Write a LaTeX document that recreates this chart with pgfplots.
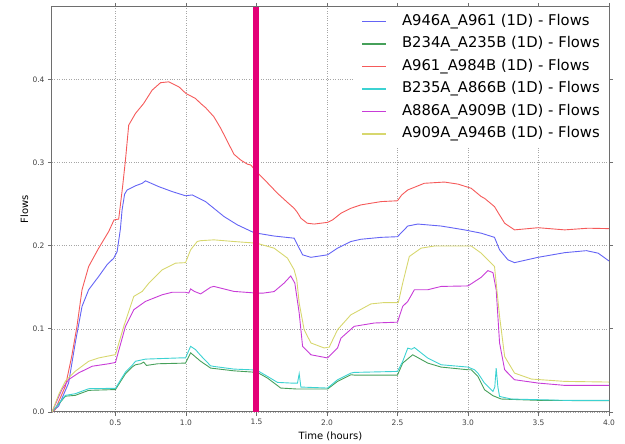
\documentclass[border=0pt]{standalone}
\usepackage{fontspec}
\setmainfont{DejaVu Sans}
\usepackage{pgfplots}
\pgfplotsset{compat=1.18}

\definecolor{cblue}{RGB}{100,100,245}
\definecolor{cgreen}{RGB}{70,160,90}
\definecolor{cred}{RGB}{245,90,90}
\definecolor{ccyan}{RGB}{60,210,210}
\definecolor{cmag}{RGB}{200,60,215}
\definecolor{cyel}{RGB}{215,215,110}
\definecolor{cbar}{RGB}{228,0,120}
\definecolor{axgray}{RGB}{110,110,110}

\begin{document}
\begin{tikzpicture}
\begin{axis}[
    scale only axis,
    width=557pt, height=405pt,
    xmin=0.05, xmax=4.0,
    ymin=0, ymax=0.487,
    xtick={0.5,1.0,1.5,2.0,2.5,3.0,3.5,4.0},
    ytick={0,0.1,0.2,0.3,0.4},
    xticklabel style={/pgf/number format/.cd,fixed,fixed zerofill,precision=1},
    yticklabel style={/pgf/number format/.cd,fixed,fixed zerofill,precision=1},
    /pgf/number format/assume math mode=true,
    tick label style={font=\fontsize{7.5}{9}\selectfont, text=black!75},
    tick align=outside,
    major tick length=4pt,
    tick style={axgray, line width=0.8pt},
    axis line style={axgray, line width=1pt},
    grid=major,
    grid style={dotted, black!35, line width=0.6pt},
    xlabel={Time (hours)},
    ylabel={Flows},
    label style={font=\fontsize{7.5}{9}\selectfont, text=black!80},
    every axis x label/.style={at={(axis description cs:0.5,0)}, yshift=-24pt, anchor=center},
    every axis y label/.style={at={(axis description cs:0,0.5)}, xshift=-27.5pt, rotate=90, anchor=center},
    legend cell align=left,
    legend style={at={(1,1)}, anchor=north east, draw=none, fill=white,
        font=\fontsize{14.8}{16}\selectfont,
        nodes={text height=11pt, text depth=3.5pt, inner sep=0pt},
        row sep=8pt, inner xsep=9pt, inner ysep=7pt},
    legend image code/.code={\draw[#1, line width=1.2pt] (0pt,0pt) -- (24pt,0pt);},
    legend style={/tikz/column 2/.style={column sep=0pt}, /tikz/column 1/.style={column sep=15pt}},
    every axis plot/.append style={line width=0.9pt},
]
\addplot[color=cblue] coordinates {
(0.05,0) (0.097,0.007) (0.168,0.035) (0.215,0.083) (0.263,0.127) (0.31,0.147) (0.381,0.163) (0.44,0.177) (0.488,0.185) (0.512,0.193) (0.535,0.22) (0.547,0.243) (0.565,0.262) (0.583,0.267) (0.642,0.272) (0.69,0.275) (0.713,0.278) (0.807,0.271) (0.903,0.265) (0.997,0.260) (1.045,0.261) (1.139,0.253) (1.27,0.235) (1.365,0.225) (1.483,0.2156) (1.625,0.2116) (1.767,0.209) (1.791,0.201) (1.827,0.189) (1.886,0.186) (2.004,0.189) (2.075,0.197) (2.17,0.205) (2.24,0.2077) (2.383,0.210) (2.50,0.2108) (2.573,0.2236) (2.644,0.226) (2.81,0.2236) (2.975,0.219) (3.094,0.215) (3.188,0.210) (3.224,0.195) (3.283,0.183) (3.33,0.1796) (3.497,0.186) (3.686,0.1916) (3.84,0.194) (3.923,0.191) (4.0,0.1816)
};
\addplot[color=cgreen] coordinates {
(0.05,0) (0.145,0.019) (0.215,0.02) (0.31,0.026) (0.50,0.027) (0.571,0.046) (0.618,0.054) (0.642,0.0568) (0.68,0.058) (0.70,0.060) (0.72,0.056) (0.8,0.058) (0.997,0.0588) (1.033,0.0712) (1.104,0.061) (1.175,0.0528) (1.34,0.0495) (1.507,0.0476) (1.578,0.0408) (1.672,0.0288) (1.791,0.0276) (2.004,0.0276) (2.075,0.0368) (2.17,0.0448) (2.193,0.0444) (2.50,0.0444) (2.537,0.0588) (2.608,0.0688) (2.715,0.0588) (2.81,0.054) (3.0,0.0508) (3.023,0.0508) (3.07,0.0428) (3.117,0.0268) (3.177,0.0196) (3.236,0.0156) (3.5,0.014) (4.0,0.0135)
};
\addplot[color=cred] coordinates {
(0.05,0) (0.073,0.003) (0.145,0.031) (0.19,0.067) (0.227,0.103) (0.263,0.147) (0.31,0.175) (0.381,0.197) (0.452,0.217) (0.49,0.231) (0.523,0.232) (0.55,0.27) (0.571,0.303) (0.594,0.345) (0.642,0.359) (0.70,0.371) (0.76,0.387) (0.82,0.396) (0.878,0.397) (0.95,0.391) (1.0,0.383) (1.068,0.377) (1.104,0.371) (1.139,0.366) (1.198,0.355) (1.247,0.341) (1.34,0.31) (1.388,0.303) (1.436,0.298) (1.46,0.297) (1.5,0.289) (1.57,0.277) (1.649,0.263) (1.72,0.252) (1.767,0.245) (1.79,0.24) (1.815,0.233) (1.86,0.227) (1.909,0.226) (2.004,0.228) (2.04,0.231) (2.099,0.239) (2.17,0.245) (2.24,0.249) (2.383,0.253) (2.50,0.254) (2.53,0.261) (2.573,0.267) (2.69,0.275) (2.833,0.2765) (2.93,0.274) (3.023,0.269) (3.094,0.259) (3.117,0.257) (3.188,0.247) (3.22,0.238) (3.26,0.227) (3.33,0.219) (3.497,0.2216) (3.686,0.219) (3.852,0.221) (4.0,0.2205)
};
\addplot[color=ccyan] coordinates {
(0.05,0) (0.145,0.02) (0.215,0.022) (0.31,0.028) (0.50,0.0285) (0.571,0.048) (0.618,0.056) (0.642,0.061) (0.713,0.0636) (0.95,0.065) (0.997,0.065) (1.033,0.079) (1.068,0.075) (1.104,0.068) (1.175,0.0555) (1.198,0.0548) (1.34,0.0516) (1.5,0.0505) (1.578,0.0428) (1.649,0.0356) (1.743,0.0348) (1.791,0.0348) (1.803,0.046) (1.815,0.030) (2.004,0.0288) (2.075,0.0388) (2.17,0.0468) (2.193,0.0476) (2.50,0.0488) (2.537,0.0608) (2.573,0.0768) (2.6,0.0755) (2.62,0.0775) (2.715,0.0648) (2.81,0.0568) (3.0,0.054) (3.046,0.0508) (3.07,0.0468) (3.117,0.0348) (3.177,0.0247) (3.19,0.030) (3.2,0.0528) (3.212,0.03) (3.224,0.0187) (3.307,0.0156) (3.497,0.0148) (3.686,0.014) (4.0,0.014)
};
\addplot[color=cmag] coordinates {
(0.05,0) (0.12,0.027) (0.168,0.039) (0.239,0.047) (0.334,0.055) (0.452,0.058) (0.50,0.0596) (0.571,0.103) (0.63,0.123) (0.713,0.133) (0.832,0.141) (0.903,0.144) (0.997,0.144) (1.02,0.143) (1.033,0.148) (1.06,0.145) (1.104,0.142) (1.175,0.150) (1.198,0.151) (1.34,0.145) (1.5,0.143) (1.55,0.143) (1.625,0.1448) (1.696,0.155) (1.743,0.1636) (1.772,0.155) (1.803,0.119) (1.827,0.079) (1.886,0.0688) (2.004,0.065) (2.075,0.077) (2.099,0.0888) (2.193,0.103) (2.335,0.107) (2.50,0.108) (2.537,0.127) (2.573,0.133) (2.62,0.147) (2.715,0.147) (2.81,0.151) (3.0,0.1516) (3.094,0.162) (3.141,0.170) (3.177,0.1676) (3.2,0.147) (3.224,0.083) (3.26,0.0508) (3.33,0.0388) (3.497,0.0348) (3.686,0.032) (4.0,0.032)
};
\addplot[color=cyel] coordinates {
(0.05,0) (0.1,0.022) (0.145,0.037) (0.215,0.049) (0.31,0.061) (0.381,0.065) (0.50,0.069) (0.559,0.103) (0.63,0.139) (0.69,0.145) (0.737,0.155) (0.832,0.171) (0.926,0.179) (0.997,0.1796) (1.033,0.195) (1.08,0.205) (1.104,0.206) (1.198,0.207) (1.34,0.205) (1.5,0.203) (1.625,0.197) (1.72,0.185) (1.767,0.171) (1.786,0.159) (1.803,0.131) (1.838,0.099) (1.886,0.083) (1.98,0.077) (2.016,0.078) (2.075,0.099) (2.17,0.117) (2.193,0.119) (2.312,0.130) (2.406,0.1316) (2.506,0.1316) (2.537,0.155) (2.584,0.187) (2.667,0.197) (2.762,0.1996) (3.023,0.1996) (3.094,0.191) (3.117,0.187) (3.188,0.175) (3.224,0.115) (3.26,0.0667) (3.33,0.0468) (3.45,0.0396) (3.686,0.0368) (4.0,0.036)
};
\addplot[color=cbar, line width=6pt, forget plot] coordinates {(1.5,0) (1.5,0.487)};
\legend{A946A\_A961 (1D) - Flows, B234A\_A235B (1D) - Flows, A961\_A984B (1D) - Flows, B235A\_A866B (1D) - Flows, A886A\_A909B (1D) - Flows, A909A\_A946B (1D) - Flows}
\end{axis}
\path[use as bounding box] (current axis.south west) ++(-52pt,-32pt) rectangle ++(625pt,444pt);
\end{tikzpicture}
\end{document}
